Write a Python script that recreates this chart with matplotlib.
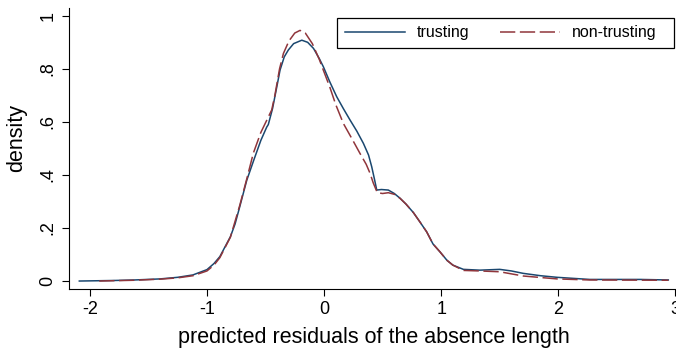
import matplotlib
matplotlib.use('Agg')
import matplotlib.pyplot as plt
from matplotlib.patches import Rectangle

# kernel density: predicted residual vs density
trusting_x = [-2.09, -1.80, -1.62, -1.40, -1.25, -1.12, -1.06, -1.00, -0.94, -0.89,
              -0.86, -0.80, -0.76, -0.72, -0.66, -0.60, -0.54, -0.49, -0.476, -0.44,
              -0.40, -0.376, -0.34, -0.305, -0.26, -0.19, -0.14, -0.09, -0.04, -0.006,
              0.05, 0.108, 0.165, 0.222, 0.28, 0.336, 0.38, 0.407, 0.43, 0.45,
              0.49, 0.549, 0.60, 0.649, 0.70, 0.763, 0.82, 0.877, 0.93, 0.99,
              1.05, 1.10, 1.19, 1.33, 1.50, 1.60, 1.70, 1.85, 1.99, 2.27,
              2.70, 2.94]
trusting_y = [0.000, 0.002, 0.004, 0.008, 0.014, 0.023, 0.033, 0.043, 0.066, 0.092,
              0.117, 0.167, 0.215, 0.280, 0.380, 0.456, 0.530, 0.580, 0.590, 0.650,
              0.740, 0.795, 0.845, 0.871, 0.895, 0.908, 0.900, 0.877, 0.838, 0.808,
              0.750, 0.695, 0.650, 0.607, 0.565, 0.519, 0.475, 0.431, 0.385, 0.343,
              0.345, 0.343, 0.330, 0.312, 0.290, 0.258, 0.222, 0.185, 0.140, 0.110,
              0.078, 0.060, 0.044, 0.041, 0.044, 0.038, 0.029, 0.020, 0.014, 0.006,
              0.006, 0.004]

nontrusting_x = [-1.92, -1.62, -1.40, -1.25, -1.12, -1.00, -0.94, -0.89, -0.80, -0.72,
                 -0.66, -0.604, -0.54, -0.447, -0.42, -0.38, -0.347, -0.30, -0.25, -0.205,
                 -0.16, -0.10, -0.04, -0.006, 0.05, 0.10, 0.165, 0.24, 0.307, 0.36,
                 0.393, 0.42, 0.455, 0.50, 0.549, 0.60, 0.649, 0.70, 0.763, 0.82,
                 0.877, 0.93, 0.99, 1.05, 1.10, 1.19, 1.33, 1.50, 1.70, 1.99,
                 2.27, 2.94]
nontrusting_y = [0.000, 0.003, 0.007, 0.012, 0.020, 0.038, 0.060, 0.088, 0.165, 0.285,
                 0.385, 0.482, 0.560, 0.645, 0.700, 0.800, 0.858, 0.905, 0.935, 0.945,
                 0.935, 0.895, 0.835, 0.795, 0.730, 0.665, 0.594, 0.535, 0.481, 0.440,
                 0.406, 0.370, 0.333, 0.330, 0.333, 0.327, 0.312, 0.290, 0.258, 0.222,
                 0.185, 0.140, 0.110, 0.078, 0.060, 0.040, 0.038, 0.035, 0.019, 0.008,
                 0.004, 0.003]

x_ticks = [-2, -1, 0, 1, 2, 3]
x_tick_labels = ['-2', '-1', '0', '1', '2', '3']
y_ticks = [0, 0.2, 0.4, 0.6, 0.8, 1.0]
y_tick_labels = ['0', '.2', '.4', '.6', '.8', '1']

plt.rcParams['font.family'] = ['Liberation Sans', 'DejaVu Sans']

W, H = 676, 352
fig = plt.figure(figsize=(W / 100, H / 100), dpi=100)
ax = fig.add_axes([0.1021, 0.179, 0.9009, 0.798])

ax.plot(trusting_x, trusting_y, color='#1a476f', lw=1.1, label='trusting')
ax.plot(nontrusting_x, nontrusting_y, color='#90353b', lw=1.1,
        dashes=(10, 3), label='non-trusting')

ax.set_xlim(-2.178, 3.023)
ax.set_ylim(-0.030, 1.029)

ax.spines['top'].set_visible(False)
ax.spines['right'].set_visible(False)

ax.set_xticks(x_ticks)
ax.set_xticklabels(x_tick_labels, fontsize=13)
ax.set_yticks(y_ticks)
ax.set_yticklabels(y_tick_labels, fontsize=13, rotation=90, va='center')
ax.tick_params(direction='out', length=5, width=0.8, pad=4)

ax.set_xlabel('predicted residuals of the absence length', fontsize=15.5, labelpad=6)
ax.set_ylabel('density', fontsize=15.5)
ax.yaxis.set_label_coords(-0.068, 0.537)

# legend entries without frame, box drawn separately (Stata-style padding)
leg = ax.legend(loc='center left', bbox_to_anchor=(345 / W, 1 - 33 / H),
                bbox_transform=fig.transFigure, ncol=2, fontsize=11.5,
                frameon=False, handlelength=3.76, handletextpad=0.73,
                columnspacing=1.94, borderpad=0, borderaxespad=0)
fig.patches.append(Rectangle((337 / W, 1 - 48 / H), (674 - 337) / W, 30 / H,
                             transform=fig.transFigure, fill=False,
                             edgecolor='black', lw=0.9))

fig.savefig('out.png', dpi=100)
